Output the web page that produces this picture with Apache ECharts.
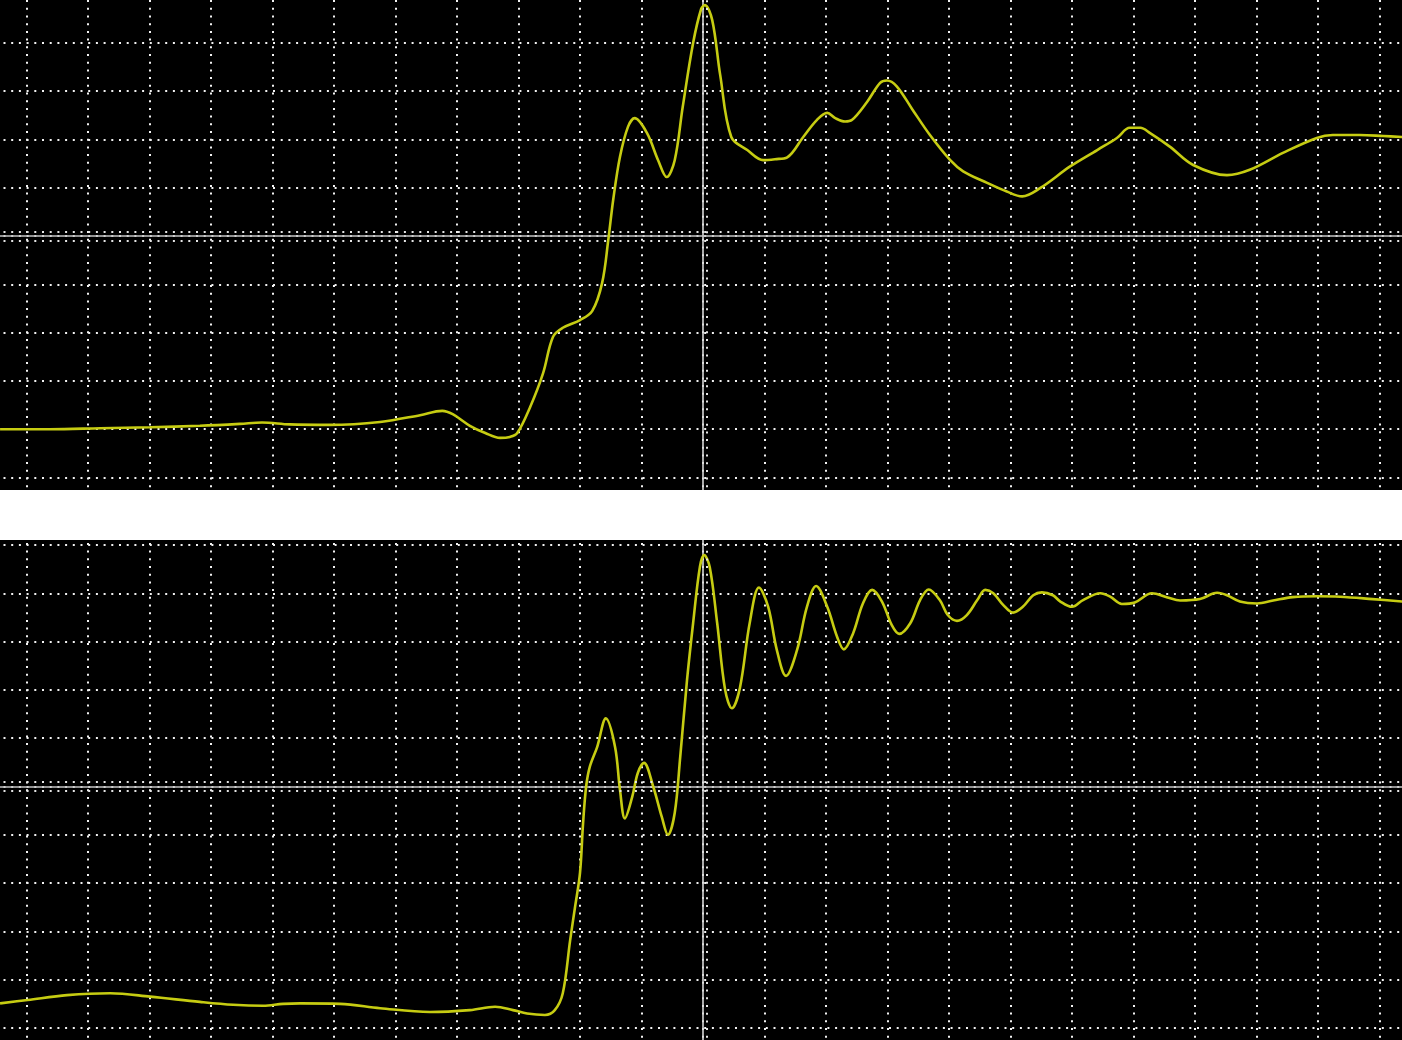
<!DOCTYPE html>
<html>
<head>
<meta charset="utf-8">
<title>scope</title>
<script src="https://cdn.jsdelivr.net/npm/echarts@6/dist/echarts.min.js"></script>
<style>
	html, body { margin: 0; padding: 0; background: #fff; }
	#upper { position: absolute; left: 0; top: 0; width: 1402px; height: 490px; }
	#lower { position: absolute; left: 0; top: 540px; width: 1402px; height: 500px; }
</style>
</head>
<body>
<div id="upper"></div>
<div id="lower"></div>
<script>
// screen units are divisions, centre of the screen is 0
var topTime = [-11.43, -10.62, -9.80, -8.99, -8.18, -7.53, -7.17, -6.72, -6.07, -5.25,
	-4.60, -4.24, -4.07, -3.79, -3.54, -3.30, -3.14, -3.02, -2.81, -2.60,
	-2.44, -2.28, -2.00, -1.80, -1.64, -1.54, -1.46, -1.35, -1.22, -1.11,
	-0.91, -0.73, -0.59, -0.46, -0.33, -0.16, -0.03, 0.03, 0.15, 0.28,
	0.46, 0.72, 0.98, 1.17, 1.37, 1.63, 1.85, 2.02, 2.15, 2.31,
	2.42, 2.67, 2.88, 2.99, 3.15, 3.41, 3.69, 4.02, 4.23, 4.62,
	4.94, 5.19, 5.48, 5.97, 6.41, 6.73, 6.94, 7.11, 7.27, 7.59,
	7.97, 8.52, 8.89, 9.43, 9.98, 10.24, 10.68, 11.06, 11.37];
var topLevel = [-4.00, -4.00, -3.98, -3.96, -3.93, -3.89, -3.86, -3.90, -3.91, -3.85,
	-3.71, -3.62, -3.69, -3.93, -4.08, -4.18, -4.16, -4.08, -3.54, -2.84,
	-2.09, -1.90, -1.74, -1.55, -0.97, -0.08, 0.75, 1.64, 2.26, 2.44,
	2.13, 1.57, 1.22, 1.57, 2.67, 4.00, 4.70, 4.78, 4.47, 3.33,
	2.05, 1.78, 1.57, 1.59, 1.63, 2.05, 2.40, 2.55, 2.44, 2.37,
	2.40, 2.78, 3.17, 3.22, 3.10, 2.61, 2.09, 1.57, 1.34, 1.10,
	0.92, 0.82, 0.99, 1.44, 1.78, 2.03, 2.24, 2.24, 2.13, 1.85,
	1.47, 1.26, 1.37, 1.72, 2.03, 2.09, 2.09, 2.07, 2.05];

var bottomTime = [-11.43, -10.98, -10.34, -9.64, -8.99, -8.18, -7.64, -7.15, -6.83, -6.55,
	-5.90, -5.25, -4.44, -3.79, -3.38, -3.09, -2.86, -2.57, -2.41, -2.28,
	-2.16, -2.08, -2.00, -1.95, -1.90, -1.84, -1.72, -1.58, -1.43, -1.35,
	-1.27, -1.15, -1.06, -0.96, -0.81, -0.67, -0.57, -0.46, -0.37, -0.26,
	-0.16, -0.05, 0.02, 0.11, 0.23, 0.36, 0.47, 0.60, 0.76, 0.91,
	1.06, 1.20, 1.35, 1.53, 1.69, 1.84, 2.02, 2.18, 2.29, 2.44,
	2.60, 2.75, 2.91, 3.07, 3.19, 3.37, 3.53, 3.67, 3.85, 3.98,
	4.13, 4.29, 4.46, 4.59, 4.72, 4.88, 5.04, 5.20, 5.37, 5.51,
	5.69, 5.80, 6.00, 6.18, 6.46, 6.62, 6.81, 7.02, 7.30, 7.54,
	7.76, 8.08, 8.36, 8.52, 8.73, 9.01, 9.27, 9.59, 9.98, 10.36,
	10.89, 11.37];
var bottomLevel = [-4.49, -4.42, -4.32, -4.28, -4.35, -4.46, -4.52, -4.54, -4.50, -4.49,
	-4.50, -4.59, -4.67, -4.63, -4.56, -4.63, -4.70, -4.73, -4.63, -4.28,
	-3.18, -2.49, -1.79, -0.76, 0.00, 0.41, 0.82, 1.41, 0.82, -0.07,
	-0.66, -0.21, 0.28, 0.49, 0.00, -0.63, -1.00, -0.55, 0.62, 2.20,
	3.39, 4.55, 4.79, 4.54, 3.39, 2.00, 1.62, 2.04, 3.39, 4.12,
	3.72, 2.83, 2.29, 2.83, 3.72, 4.15, 3.72, 3.10, 2.84, 3.17,
	3.79, 4.07, 3.83, 3.34, 3.16, 3.38, 3.86, 4.08, 3.86, 3.55,
	3.43, 3.55, 3.86, 4.07, 4.00, 3.76, 3.60, 3.72, 3.96, 4.02,
	3.96, 3.84, 3.72, 3.86, 4.00, 3.93, 3.78, 3.81, 4.00, 3.92,
	3.85, 3.88, 4.01, 3.96, 3.83, 3.79, 3.85, 3.92, 3.94, 3.93,
	3.88, 3.83];

var traceColor = '#c6cc12';
var dotted = [2, 5.7];

function pairs(xs, ys) {
	var out = [];
	for (var i = 0; i < xs.length; i++) {
		out.push([xs[i], ys[i]]);
	}
	return out;
}

function scopeOption(data, gridTop) {
	return {
		backgroundColor: '#000',
		animation: false,
		grid: {
			left: -35,
			width: 1476,
			top: gridTop,
			height: 579.6,
			outerBoundsMode: 'none',
			containLabel: false,
			show: false
		},
		xAxis: {
			type: 'value',
			min: -12,
			max: 12,
			interval: 1,
			axisLine: {
				show: true,
				onZero: true,
				lineStyle: { color: '#c4c4c4', width: 1.6 }
			},
			axisTick: { show: false },
			axisLabel: { show: false },
			splitLine: {
				show: true,
				lineStyle: { color: '#f2f2f2', width: 2, type: dotted }
			}
		},
		yAxis: {
			type: 'value',
			min: -6,
			max: 6,
			interval: 1,
			axisLine: {
				show: true,
				onZero: true,
				lineStyle: { color: '#d6d6d6', width: 1.6 }
			},
			axisTick: { show: false },
			axisLabel: { show: false },
			splitLine: {
				show: true,
				lineStyle: { color: '#f2f2f2', width: 2, type: dotted }
			}
		},
		series: [{
			type: 'line',
			data: data,
			smooth: 0.35,
			showSymbol: false,
			lineStyle: { color: traceColor, width: 2.6 },
			markLine: {
				silent: true,
				symbol: ['none', 'none'],
				label: { show: false },
				lineStyle: { color: '#e6e6e6', width: 2, type: dotted },
				// small tick dots either side of the centre lines
				data: [
					{ yAxis: 0.085 },
					{ yAxis: -0.085 },
					{ xAxis: 0.06 }
				]
			}
		}]
	};
}

var upperChart = echarts.init(document.getElementById('upper'));
upperChart.setOption(scopeOption(pairs(topTime, topLevel), -53.8));

var lowerChart = echarts.init(document.getElementById('lower'));
lowerChart.setOption(scopeOption(pairs(bottomTime, bottomLevel), -43.3));
</script>
</body>
</html>
